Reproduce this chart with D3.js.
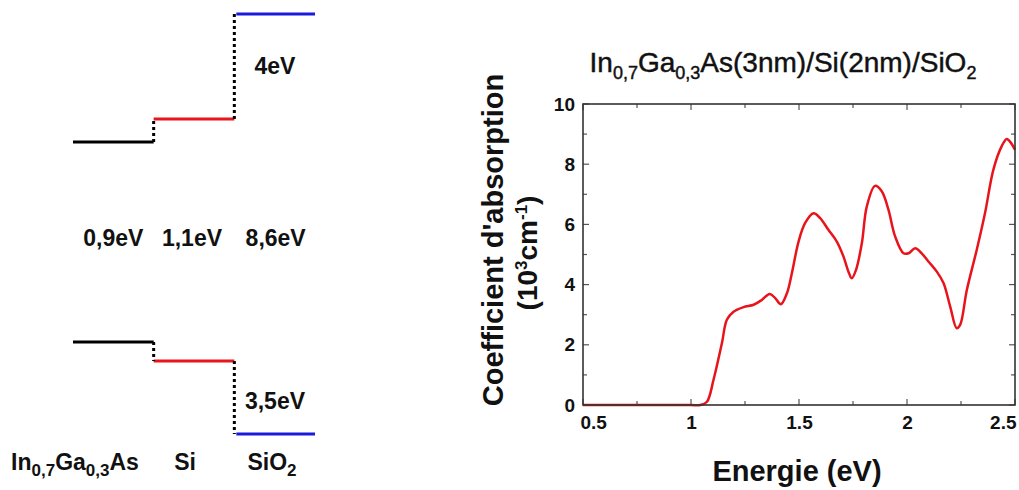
<!DOCTYPE html>
<html><head><meta charset="utf-8">
<script src="https://cdn.jsdelivr.net/npm/d3@7"></script>
<style>body{margin:0;background:#fff}svg{display:block}text{font-family:"Liberation Sans",Arial,sans-serif;font-weight:bold;fill:#111}</style>
</head><body>
<svg id="c" width="1019" height="490"></svg>
<script>
// ---- Band diagram data ----
const materials = ["InGaAs", "Si", "SiO2"];
const cbLevel = [2.92, 3.15, 4.20];   // schematic conduction band levels
const vbLevel = [0.92, 0.73, 0.00];   // schematic valence band levels
const bandColors = ["#000000", "#e8141c", "#1a1adc"];
const gapLabels = ["0,9eV", "1,1eV", "8,6eV"];
const cbOffsetLabel = "4eV";
const vbOffsetLabel = "3,5eV";

// ---- Absorption spectrum data ----
const energy = [0.5,0.8,1.0,1.043,1.074,1.104,1.143,1.166,1.197,1.243,1.29,1.328,1.364,1.39,1.416,1.444,1.467,1.498,1.528,1.567,1.598,1.636,1.675,1.706,1.729,1.744,1.764,1.791,1.814,1.852,1.883,1.914,1.945,1.984,2.007,2.038,2.068,2.099,2.138,2.169,2.2,2.23,2.246,2.277,2.323,2.361,2.4,2.438,2.462,2.482,2.5];
const absorption = [0,0,0,0,0.11,0.83,2.05,2.83,3.1,3.25,3.33,3.49,3.69,3.55,3.35,3.71,4.38,5.43,6.04,6.37,6.21,5.82,5.43,4.93,4.43,4.21,4.49,5.38,6.6,7.28,7.1,6.49,5.6,5.04,5.04,5.21,5.04,4.77,4.43,4.05,3.27,2.55,2.66,3.82,5.16,6.37,7.82,8.59,8.84,8.7,8.48];
const xTicks = [0.5, 1, 1.5, 2, 2.5];
const xTickLabels = ["0.5", "1", "1.5", "2", "2.5"];
const xMinorTicks = [0.75, 1.25, 1.75, 2.25];
const yTicks = [0, 2, 4, 6, 8, 10];
const yMinorTicks = [1, 3, 5, 7, 9];

const svg = d3.select("#c");

// rich text: parts with optional sub/sup; offsets are restored on the following tspan
function rich(textSel, parts, smallSize, shift) {
  let pending = 0;
  parts.forEach(p => {
    const ts = textSel.append("tspan").text(p.t);
    let dy = pending;
    pending = 0;
    if (p.sub) { dy += shift; pending = -shift; ts.attr("font-size", smallSize); }
    else if (p.sup) { dy -= shift; pending = shift; ts.attr("font-size", smallSize); }
    if (dy !== 0) ts.attr("dy", dy);
  });
}

// ===== Left: band diagram =====
const bx = d3.scaleBand().domain(materials).range([73, 315]).paddingInner(0);
const by = d3.scaleLinear().domain([0, 4.2]).range([434, 14]);
const g1 = svg.append("g");
materials.forEach((m, i) => {
  [cbLevel[i], vbLevel[i]].forEach(v => {
    g1.append("line").attr("x1", bx(m) + (i === 2 ? 2 : 0)).attr("x2", bx(m) + bx.bandwidth())
      .attr("y1", by(v)).attr("y2", by(v))
      .attr("stroke", bandColors[i]).attr("stroke-width", 3);
  });
  if (i > 0) {
    const xb = bx(m);
    [[cbLevel[i-1], cbLevel[i]], [vbLevel[i-1], vbLevel[i]]].forEach(([a, b]) => {
      g1.append("line").attr("x1", xb).attr("x2", xb).attr("y1", by(a)).attr("y2", by(b))
        .attr("stroke", "#000").attr("stroke-width", 3).attr("stroke-dasharray", "3,3");
    });
  }
  g1.append("text").attr("x", bx(m) + bx.bandwidth() / 2 + (i===0?0:(i===1?-2:1))).attr("y", 246)
    .attr("text-anchor", "middle").attr("font-size", 23).text(gapLabels[i]);
});
g1.append("text").attr("x", 275).attr("y", 74).attr("text-anchor", "middle").attr("font-size", 23).text(cbOffsetLabel);
g1.append("text").attr("x", 275).attr("y", 409).attr("text-anchor", "middle").attr("font-size", 23).text(vbOffsetLabel);

const lab1 = g1.append("text").attr("x", 75).attr("y", 470).attr("text-anchor", "middle").attr("font-size", 23);
rich(lab1, [{t:"In"},{t:"0,7",sub:true},{t:"Ga"},{t:"0,3",sub:true},{t:"As"}], 17, 6);
g1.append("text").attr("x", 185).attr("y", 470).attr("text-anchor", "middle").attr("font-size", 23).text("Si");
const lab3 = g1.append("text").attr("x", 272).attr("y", 470).attr("text-anchor", "middle").attr("font-size", 23);
rich(lab3, [{t:"SiO"},{t:"2",sub:true}], 17, 6);

// ===== Right: absorption chart =====
const x = d3.scaleLinear().domain([0.5, 2.5]).range([583, 1015]);
const y = d3.scaleLinear().domain([0, 10]).range([405, 104]);
const g2 = svg.append("g");

const xAxis = d3.axisBottom(x).tickValues(xTicks).tickFormat((d, i) => xTickLabels[i]).tickSize(0).tickPadding(11);
g2.append("g").attr("transform", `translate(0,${y(0)})`).call(xAxis)
  .call(s => s.select(".domain").remove())
  .selectAll("text").attr("font-size", 19).attr("font-family", "Liberation Sans, Arial, sans-serif").attr("font-weight", "bold").attr("fill", "#111")
  .attr("text-anchor", (d, i) => i === 0 ? "start" : (i === xTicks.length - 1 ? "end" : "middle"))
  .attr("dx", (d, i) => i === 0 ? -3 : (i === xTicks.length - 1 ? 1 : 0));
const yAxis = d3.axisLeft(y).tickValues(yTicks).tickSize(0).tickPadding(8);
g2.append("g").attr("transform", `translate(${x(0.5)},0)`).call(yAxis)
  .call(s => s.select(".domain").remove())
  .selectAll("text").attr("font-size", 19).attr("font-family", "Liberation Sans, Arial, sans-serif").attr("font-weight", "bold").attr("fill", "#111");

// inward ticks on all four sides
const tickG = g2.append("g").attr("stroke", "#555").attr("stroke-width", 1.2);
xTicks.concat(xMinorTicks).forEach(v => {
  const L = xTicks.includes(v) ? 6 : 4;
  tickG.append("line").attr("x1", x(v)).attr("x2", x(v)).attr("y1", y(0)).attr("y2", y(0) - L);
  tickG.append("line").attr("x1", x(v)).attr("x2", x(v)).attr("y1", y(10)).attr("y2", y(10) + L);
});
yTicks.concat(yMinorTicks).forEach(v => {
  const L = yTicks.includes(v) ? 6 : 4;
  tickG.append("line").attr("y1", y(v)).attr("y2", y(v)).attr("x1", x(0.5)).attr("x2", x(0.5) + L);
  tickG.append("line").attr("y1", y(v)).attr("y2", y(v)).attr("x1", x(2.5)).attr("x2", x(2.5) - L);
});

// curve
const pts = energy.map((e, i) => [e, absorption[i]]);
g2.append("path").datum(pts)
  .attr("d", d3.line().x(d => x(d[0])).y(d => y(d[1])).curve(d3.curveCatmullRom.alpha(0.5)))
  .attr("fill", "none").attr("stroke", "#e8141c").attr("stroke-width", 2.5);

// frame
g2.append("rect").attr("x", x(0.5)).attr("y", y(10)).attr("width", x(2.5) - x(0.5)).attr("height", y(0) - y(10))
  .attr("fill", "none").attr("stroke", "#333").attr("stroke-width", 1.6);

// title
const title = g2.append("text").attr("x", 783).attr("y", 72).attr("text-anchor", "middle").attr("font-size", 28).style("font-weight", "normal").style("stroke", "#111").style("stroke-width", 0.45);
rich(title, [{t:"In"},{t:"0,7",sub:true},{t:"Ga"},{t:"0,3",sub:true},{t:"As(3nm)/Si(2nm)/SiO"},{t:"2",sub:true}], 18, 7);

// y label
g2.append("text").attr("transform", "translate(503,240) rotate(-90)").attr("text-anchor", "middle").attr("font-size", 29).text("Coefficient d'absorption");
const yl2 = g2.append("text").attr("transform", "translate(537,253) rotate(-90)").attr("text-anchor", "middle").attr("font-size", 28);
rich(yl2, [{t:"(10"},{t:"3",sup:true},{t:"cm"},{t:"-1",sup:true},{t:")"}], 17, 10);

// x label
g2.append("text").attr("x", 797).attr("y", 481).attr("text-anchor", "middle").attr("font-size", 29).text("Energie (eV)");
</script>
</body></html>
